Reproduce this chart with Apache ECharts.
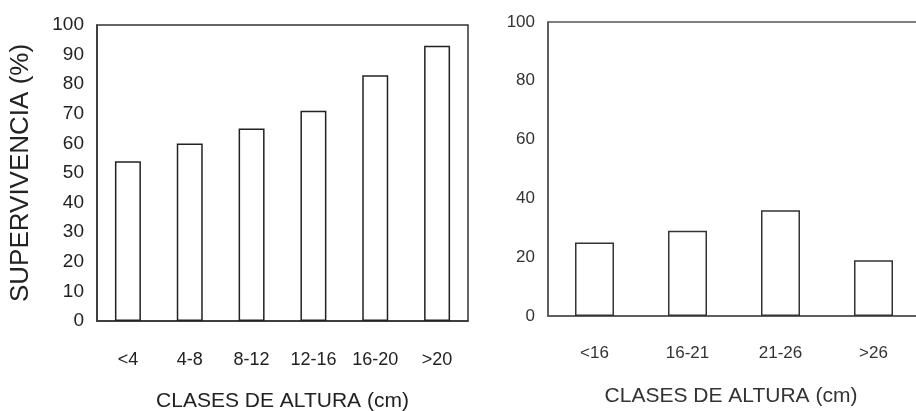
<!DOCTYPE html>
<html><head><meta charset="utf-8">
<script src="https://cdn.jsdelivr.net/npm/echarts@6/dist/echarts.min.js"></script>
<style>html,body{margin:0;padding:0;background:#fff}#c{width:916px;height:411px}</style>
</head><body><div id="c"></div>
<script>
const leftCategories = ['<4', '4-8', '8-12', '12-16', '16-20', '>20'];
const leftValues = [54, 60, 65, 71, 83, 93];
const rightCategories = ['<16', '16-21', '21-26', '>26'];
const rightValues = [25, 29, 36, 19];
const leftYTicks = {min: 0, max: 100, interval: 10};
const rightYTicks = {min: 0, max: 100, interval: 20};

const font = 'Liberation Sans, Arial, Helvetica, sans-serif';
const chart = echarts.init(document.getElementById('c'), null, {renderer: 'canvas'});
chart.setOption({
  animation: false,
  backgroundColor: '#fff',
  grid: [
    {left: 97, top: 25, width: 371, height: 296, outerBoundsMode: 'none', containLabel: false, show: true, borderColor: '#333', borderWidth: 1.5, backgroundColor: 'transparent'},
    {left: 548, top: 22, width: 372, height: 294, outerBoundsMode: 'none', containLabel: false, show: true, borderColor: '#555', borderWidth: 1.5, backgroundColor: 'transparent'}
  ],
  xAxis: [
    {type: 'category', gridIndex: 0, data: leftCategories,
     axisLine: {lineStyle: {color: '#333', width: 1.5}}, axisTick: {show: false},
     axisLabel: {color: '#222', fontSize: 18, fontFamily: font, margin: 30},
     name: 'CLASES DE ALTURA (cm)', nameLocation: 'middle', nameGap: 70,
     nameTextStyle: {color: '#222', fontSize: 21, fontFamily: font}},
    {type: 'category', gridIndex: 1, data: rightCategories,
     axisLine: {lineStyle: {color: '#555', width: 1.5}}, axisTick: {show: false},
     axisLabel: {color: '#333', fontSize: 17, fontFamily: font, margin: 29},
     name: 'CLASES DE ALTURA (cm)', nameLocation: 'middle', nameGap: 70,
     nameTextStyle: {color: '#333', fontSize: 21, fontFamily: font, padding: [0, 0, 0, -6]}}
  ],
  yAxis: [
    {type: 'value', gridIndex: 0, min: leftYTicks.min, max: leftYTicks.max, interval: leftYTicks.interval,
     axisLine: {show: true, lineStyle: {color: '#333', width: 1.5}}, axisTick: {show: false}, splitLine: {show: false},
     axisLabel: {color: '#222', fontSize: 19, fontFamily: font, margin: 13},
     name: 'SUPERVIVENCIA (%)', nameLocation: 'middle', nameGap: 63,
     nameTextStyle: {color: '#222', fontSize: 26, fontFamily: font}},
    {type: 'value', gridIndex: 1, min: rightYTicks.min, max: rightYTicks.max, interval: rightYTicks.interval,
     axisLine: {show: true, lineStyle: {color: '#555', width: 1.5}}, axisTick: {show: false}, splitLine: {show: false},
     axisLabel: {color: '#333', fontSize: 17, fontFamily: font, margin: 13}}
  ],
  series: [
    {type: 'bar', xAxisIndex: 0, yAxisIndex: 0, data: leftValues, barWidth: '42%',
     itemStyle: {color: '#fff', borderColor: '#222', borderWidth: 1.5}},
    {type: 'bar', xAxisIndex: 1, yAxisIndex: 1, data: rightValues, barWidth: 39,
     itemStyle: {color: '#fff', borderColor: '#333', borderWidth: 1.5}}
  ]
});
</script></body></html>
